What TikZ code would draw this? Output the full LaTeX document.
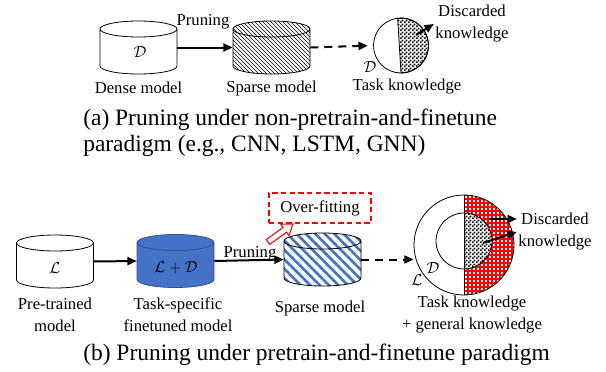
\documentclass[tikz,border=0pt]{standalone}
\usepackage{fontspec}
\setmainfont{Liberation Serif}
\usetikzlibrary{positioning,patterns,patterns.meta,arrows.meta}
\definecolor{taskblue}{HTML}{4472C4}
\definecolor{edgeblue}{HTML}{2F528F}
% fine checker for the discarded part
\tikzdeclarepattern{
    name=finechecker,
    type=uncolored,
    bounding box={(0pt,0pt) and (3pt,3pt)},
    tile size={(3pt,3pt)},
    code={
        \fill (0pt,0pt) rectangle (1.5pt,1.5pt);
        \fill (1.5pt,1.5pt) rectangle (3pt,3pt);
    }
}
% cylinder of a model: #1 = centre, #2 = look
\newcommand{\drawmodel}[2]{%
    \draw[line width=0.6pt, #2] (#1) ++(-38.5,-18.5) -- ++(0,37)
        arc[start angle=180, end angle=0, x radius=38.5, y radius=8]
        -- ++(0,-37)
        arc[start angle=0, end angle=-180, x radius=38.5, y radius=8] -- cycle
        (#1) ++(-38.5,-18.5)
        arc[start angle=180, end angle=0, x radius=38.5, y radius=8];
}
\tikzset{
    % box that names a model
    modelbox/.style={rectangle, minimum width=57.75pt, minimum height=39.75pt, inner sep=0pt},
    % text under / beside the pictures
    lbl/.style={font=\fontsize{12.5}{16.5}\selectfont, align=center, inner sep=1pt},
    subcap/.style={font=\fontsize{17.6}{19.5}\selectfont, align=left, anchor=west, inner sep=0pt},
    % arrows
    prune/.style={line width=1.5pt, -{Triangle[length=7pt,width=6pt]}},
    dashprune/.style={prune, dash pattern=on 6pt off 4.5pt},
    knowledge/.style={draw, circle, inner sep=0pt, line width=0.6pt}
}
\begin{document}
\begin{tikzpicture}[x=0.75pt,y=-0.75pt]
    \useasboundingbox (0,0) rectangle (606,371);

    % (a) Non-pretrain-and-finetune
    \drawmodel{138.5,47.5}{fill=white}
    \drawmodel{271.5,47.5}{pattern=north west lines}
    \node[modelbox] (dense) at (138.5,47.5) {};
    \node[modelbox] (sparseA) at (271.5,47.5) {};
    \node[lbl] (denseT) at (140,52) {$\mathcal{D}$};
    \node[lbl] (denseL) at (138.5,88) {Dense model};
    \node[lbl] (sparseAL) at (271.5,88) {Sparse model};
    \node[lbl, anchor=base] (pruneA) at (203,25) {Pruning};
    \draw[prune] (dense.east) -- (sparseA.west);

    % Knowledge circle (a)
    \coordinate (circA) at (401,45.5);
    \draw[line width=0.6pt, pattern=finechecker] (circA) ++(-97:27.5)
        arc[start angle=-97, end angle=90, radius=27.5] -- cycle;
    \node[knowledge, minimum size=41.25pt] (taskA) at (circA) {};
    \draw[dashprune, shorten >=4pt] (sparseA.east) -- (taskA.west);
    \node[lbl] (dA) at (370,67) {$\mathcal{D}$};
    \node[lbl] (taskAL) at (407,87) {Task knowledge};
    \node[lbl] (discA) at (472,24) {Discarded\\knowledge};
    \coordinate (cutA) at (416,35);
    \draw[prune] (cutA) -- (discA.west);

    \node[subcap] (capA) at (83,133) {(a) Pruning under non-pretrain-and-finetune\\paradigm (e.g., CNN, LSTM, GNN)};

    % (b) Pretrain-and-finetune
    \drawmodel{55,261.5}{fill=white}
    \drawmodel{175.5,261}{fill=taskblue, draw=edgeblue}
    \drawmodel{322.5,259.5}{pattern={Lines[angle=-45,distance=5pt,line width=2pt]}, pattern color=taskblue}
    \node[modelbox] (pre) at (55,261.5) {};
    \node[modelbox] (task) at (175.5,261) {};
    \node[modelbox] (sparseB) at (322.5,259.5) {};
    \node[lbl] (preT) at (55,268) {$\mathcal{L}$};
    \node[lbl] (taskT) at (176,268) {$\mathcal{L}+\mathcal{D}$};
    \draw[prune] (pre.east) -- (task.west);
    \draw[prune] (task.east) -- (sparseB.west);
    \node[lbl, anchor=base] (pruneB) at (250,257) {Pruning};
    \node[lbl] (preL) at (55,315) {Pre-trained\\model};
    \node[lbl] (taskL) at (178,315) {Task-specific\\finetuned model};
    \node[lbl] (sparseBL) at (320,308) {Sparse model};

    % Over-fitting hint
    \node[lbl, draw=red, line width=1.8pt, dash pattern=on 4pt off 2.5pt,
          minimum width=76.5pt, minimum height=22.5pt] (over) at (320,208) {Over-fitting};
    \coordinate (hintTail) at (268,242);
    \begin{scope}[shift={(hintTail)}, rotate=35.8]
        \draw[red, fill=white, line width=0.8pt, line join=miter]
            (0,-3) -- (20.8,-3) -- (20.8,-7) -- (30.8,0) -- (20.8,7) -- (20.8,3) -- (0,3) -- cycle;
    \end{scope}

    % Knowledge circles (b)
    \coordinate (bigC) at (464,245);
    \coordinate (smallC) at (464,241);
    \fill[white] (bigC) circle[radius=50];
    \fill[pattern={Hatch[angle=0,distance=3pt,line width=1.6pt]}, pattern color=red]
        (bigC) ++(0,-50) arc[start angle=-90, end angle=90, radius=50] -- cycle;
    \fill[white] (smallC) circle[radius=28];
    \fill[pattern=finechecker] (smallC) ++(0,-28)
        arc[start angle=-90, end angle=90, radius=28] -- cycle;
    \node[knowledge, minimum size=75pt] (outer) at (bigC) {};
    \node[knowledge, minimum size=42pt] (inner) at (smallC) {};
    \draw[line width=0.6pt] (outer.north) -- (outer.south);
    \draw[dashprune] (sparseB.east) -- (sparseB.east -| outer.west);
    \node[lbl] (dB) at (433,268) {$\mathcal{D}$};
    \node[lbl] (lB) at (417,280) {$\mathcal{L}$};
    \node[lbl] (outerL) at (472,315) {Task knowledge\\+ general knowledge};
    \node[lbl] (discB) at (555,232) {Discarded\\knowledge};
    \coordinate (cutR) at (490,219);
    \coordinate (cutK) at (483,243);
    \draw[prune] (cutR) -- (cutR -| discB.west);
    \draw[prune] (cutK) -- (discB.west);

    \node[subcap] (capB) at (83,355) {(b) Pruning under pretrain-and-finetune paradigm};
\end{tikzpicture}
\end{document}
